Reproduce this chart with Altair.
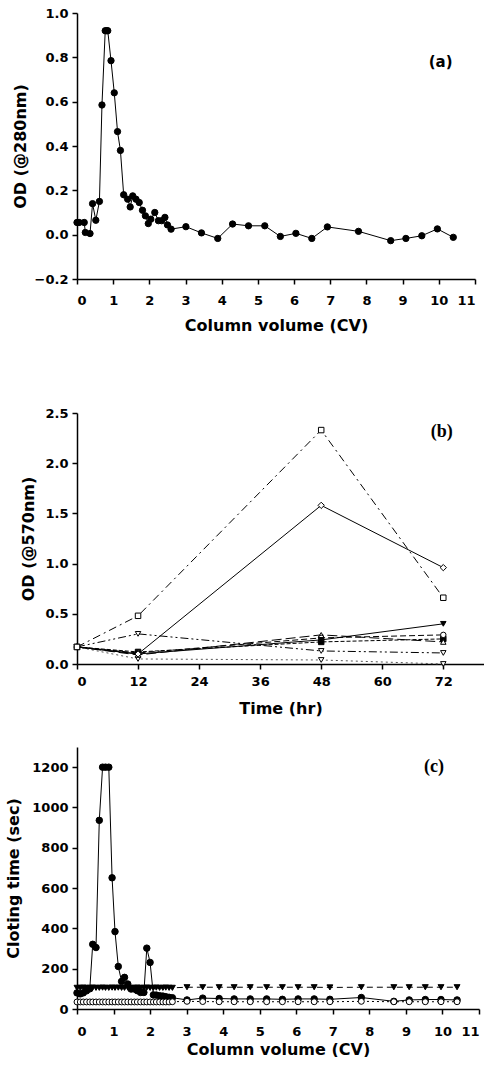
import altair as alt
import pandas as pd

# ---------------- Panel (a): OD at 280 nm vs column volume ----------------
cv_a = [0.0, 0.06, 0.2, 0.23, 0.36, 0.43, 0.52, 0.62, 0.69, 0.78, 0.82, 0.85,
        0.94, 1.03, 1.12, 1.2, 1.29, 1.4, 1.47, 1.54, 1.63, 1.72, 1.81, 1.89,
        1.97, 2.04, 2.15, 2.25, 2.34, 2.43, 2.5, 2.6, 3.01, 3.44, 3.89, 4.3,
        4.74, 5.19, 5.62, 6.05, 6.49, 6.92, 7.78, 8.67, 9.09, 9.53, 9.96, 10.4]
od280 = [0.055, 0.055, 0.055, 0.01, 0.005, 0.14, 0.065, 0.15, 0.585, 0.92, 0.92, 0.92,
         0.785, 0.64, 0.465, 0.38, 0.18, 0.16, 0.125, 0.175, 0.16, 0.145, 0.11, 0.085,
         0.05, 0.07, 0.1, 0.063, 0.063, 0.078, 0.044, 0.025, 0.036, 0.008, -0.017, 0.048,
         0.04, 0.04, -0.008, 0.006, -0.017, 0.035, 0.015, -0.027, -0.017, -0.005, 0.026, -0.012]

# ---------------- Panel (b): OD at 570 nm vs time ----------------
hours = [0, 12, 48, 72]
b_square_open = [0.17, 0.48, 2.33, 0.66]
b_diamond_open = [0.17, 0.10, 1.58, 0.96]
b_invtri_filled = [0.17, 0.10, 0.24, 0.40]
b_circle_open = [0.17, 0.11, 0.26, 0.29]
b_tri_open = [0.17, 0.09, 0.29, 0.22]
b_square_filled = [0.17, 0.12, 0.22, 0.25]
b_invtri_open_a = [0.17, 0.30, 0.13, 0.11]
b_invtri_open_b = [0.17, 0.05, 0.04, 0.00]

# ---------------- Panel (c): clotting time vs column volume ----------------
cv_c = [0.0, 0.09, 0.17, 0.26, 0.35, 0.43, 0.52, 0.61, 0.70, 0.78, 0.87, 0.96,
        1.04, 1.13, 1.22, 1.30, 1.39, 1.48, 1.57, 1.65, 1.74, 1.83, 1.91, 2.00,
        2.09, 2.17, 2.26, 2.35, 2.43, 2.52, 2.61, 3.01, 3.44, 3.89, 4.3, 4.74,
        5.19, 5.62, 6.05, 6.49, 6.92, 7.78, 8.67, 9.09, 9.53, 9.96, 10.4]
clot_filled_circle = [80, 75, 80, 90, 100, 321, 305, 936, 1200, 1200, 1200, 651,
                      384, 211, 137, 157, 124, 99, 99, 91, 82, 82, 302, 231,
                      70, 69, 66, 64, 61, 58, 56, 45, 54, 52, 50, 50,
                      50, 48, 50, 50, 48, 57, 38, 45, 47, 47, 45]
clot_invtri = [105, 105, 106, 105, 105, 106, 105, 105, 106, 105, 105, 106,
               105, 106, 105, 105, 106, 105, 105, 106, 105, 105, 106, 105,
               105, 106, 105, 105, 106, 105, 105, 108, 108, 108, 108, 108,
               108, 108, 108, 108, 107, 108, 108, 108, 108, 108, 108]
clot_open_circle = [35, 35, 35, 35, 35, 35, 35, 35, 35, 35, 35, 35,
                    35, 35, 35, 35, 35, 35, 35, 35, 35, 35, 35, 35,
                    35, 35, 35, 35, 35, 35, 36, 38, 37, 36, 36, 36,
                    36, 36, 36, 36, 36, 38, 36, 36, 36, 36, 36]

cv_ticks = [0, 1, 2, 3, 4, 5, 6, 7, 8, 9, 10, 11]
hour_ticks = [0, 12, 24, 36, 48, 60, 72]

SANS = "DejaVu Sans"
SERIF = "Liberation Serif"


def series(xs, ys, xenc, yenc, shape, filled, size, dash=None, line_color="black"):
    df = pd.DataFrame({"x": xs, "y": ys})
    line_kwargs = dict(color=line_color, strokeWidth=1)
    if dash:
        line_kwargs["strokeDash"] = dash
    line = alt.Chart(df).mark_line(**line_kwargs).encode(x=xenc, y=yenc)
    pts = alt.Chart(df).mark_point(
        shape=shape, size=size, filled=True,
        fill="black" if filled else "white", stroke="black", strokeWidth=1,
        opacity=1,
    ).encode(x=xenc, y=yenc)
    return [line, pts]


def label(xv, yv, txt, xenc, yenc, font, size):
    df = pd.DataFrame({"x": [xv], "y": [yv], "t": [txt]})
    return alt.Chart(df).mark_text(font=font, fontWeight="bold", fontSize=size,
                                   color="black").encode(x=xenc, y=yenc, text="t:N")


def axis(title, values, fmt, lpad, tpad):
    return alt.Axis(title=title, values=values, format=fmt, labelPadding=lpad,
                    titlePadding=tpad, labelOverlap=False, grid=False, tickCount=len(values))


# ---- panel a ----
xa = alt.X("x:Q", scale=alt.Scale(domain=[0, 11], nice=False, zero=False),
           axis=axis("Column volume (CV)", cv_ticks, "d", 10, 10))
ya = alt.Y("y:Q", scale=alt.Scale(domain=[-0.2, 1.0], nice=False, zero=False),
           axis=axis("OD (@280nm)", [-0.2, 0.0, 0.2, 0.4, 0.6, 0.8, 1.0], ".1f", 4, 6))
layers_a = series(cv_a, od280, xa, ya, "circle", True, 40)
panel_a = alt.layer(*layers_a, label(10.05, 0.78, "(a)", xa, ya, SANS, 15)).properties(
    width=398, height=266)

# ---- panel b ----
xb = alt.X("x:Q", scale=alt.Scale(domain=[0, 80], nice=False, zero=False),
           axis=axis("Time (hr)", hour_ticks, "d", 6, 12))
yb = alt.Y("y:Q", scale=alt.Scale(domain=[0, 2.5], nice=False),
           axis=axis("OD (@570nm)", [0, 0.5, 1.0, 1.5, 2.0, 2.5], ".1f", 4, 8))
layers_b = []
layers_b += series(hours, b_invtri_open_b, xb, yb, "triangle-down", False, 30, [2, 3], "#555555")
layers_b += series(hours, b_invtri_open_a, xb, yb, "triangle-down", False, 30, [8, 3, 2, 3, 2, 3])
layers_b += series(hours, b_square_filled, xb, yb, "square", True, 30, [4, 2])
layers_b += series(hours, b_tri_open, xb, yb, "triangle-up", False, 30, [10, 4])
layers_b += series(hours, b_circle_open, xb, yb, "circle", False, 30, [6, 3])
layers_b += series(hours, b_invtri_filled, xb, yb, "triangle-down", True, 30)
layers_b += series(hours, b_diamond_open, xb, yb, "diamond", False, 40)
layers_b += series(hours, b_square_open, xb, yb, "square", False, 30, [8, 4, 2, 4])
panel_b = alt.layer(*layers_b, label(71.7, 2.31, "(b)", xb, yb, SERIF, 18)).properties(
    width=407, height=251)

# ---- panel c ----
xc = alt.X("x:Q", scale=alt.Scale(domain=[0, 11], nice=False, zero=False),
           axis=axis("Column volume (CV)", cv_ticks, "d", 11, 3))
yc = alt.Y("y:Q", scale=alt.Scale(domain=[0, 1300], nice=False),
           axis=axis("Cloting time (sec)", [0, 200, 400, 600, 800, 1000, 1200], "d", 4, 10))
layers_c = []
layers_c += series(cv_c, clot_invtri, xc, yc, "triangle-down", True, 35, [6, 4])
layers_c += series(cv_c, clot_filled_circle, xc, yc, "circle", True, 42)
layers_c += series(cv_c, clot_open_circle, xc, yc, "circle", False, 35, [2, 3])
panel_c = alt.layer(*layers_c, label(9.77, 1200, "(c)", xc, yc, SERIF, 18)).properties(
    width=402, height=262)

top = alt.vconcat(panel_a, panel_b, spacing=74)
chart = alt.vconcat(top, panel_c, spacing=31).properties(
    padding={"left": 5, "top": 7, "right": 0, "bottom": 0},
    background="white",
).configure_axis(
    labelFont=SANS, labelFontWeight="bold", labelFontSize=13, labelColor="black",
    titleFont=SANS, titleFontWeight="bold", titleFontSize=16, titleColor="black",
    domainColor="black", domainWidth=1.5, tickColor="black", tickSize=5, tickWidth=1.5,
).configure_view(stroke=None)

chart.save("out.html", embed_options={"renderer": "svg", "actions": False})
